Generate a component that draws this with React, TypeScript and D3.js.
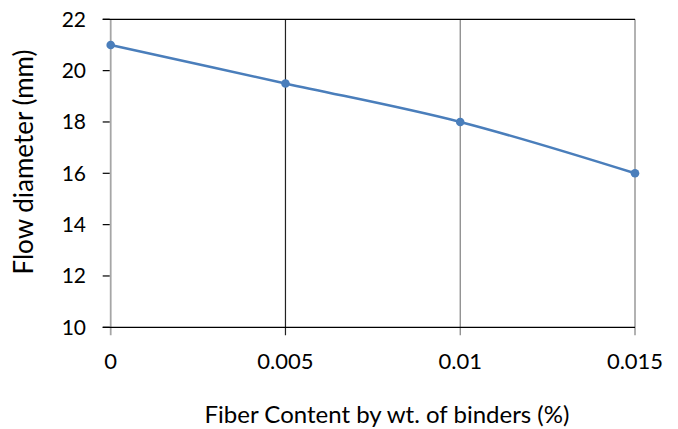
import React, { useEffect, useRef } from "react";
import * as d3 from "d3";

const fiberContent = [0, 0.005, 0.01, 0.015];
const flowDiameter = [21, 19.5, 18, 16];
const yTicks = [10, 12, 14, 16, 18, 20, 22];
const xTicks = [0, 0.005, 0.01, 0.015];
const xTickLabels = ["0", "0.005", "0.01", "0.015"];
const xTitle = "Fiber Content by wt. of binders (%)";
const yTitle = "Flow diameter (mm)";

export default function App() {
  const ref = useRef<SVGSVGElement>(null);
  useEffect(() => {
    const svg = d3.select(ref.current);
    svg.selectAll("*").remove();
    const W = 678, H = 429;
    const left = 110.7, right = 635, top = 19.3, bottom = 327.3;
    const x = d3.scaleLinear().domain([0, 0.015]).range([left, right]);
    const y = d3.scaleLinear().domain([10, 22]).range([bottom, top]);
    const font = "Lato, 'Open Sans', sans-serif";

    svg.append("rect").attr("width", W).attr("height", H).attr("fill", "#fff");

    const gridColors = ["#a6a6a6", "#222", "#7f7f7f", "#7f7f7f"];
    xTicks.forEach((t, i) => {
      svg.append("line")
        .attr("x1", x(t)).attr("x2", x(t))
        .attr("y1", y(22)).attr("y2", bottom + 8)
        .attr("stroke", gridColors[i]).attr("stroke-width", i === 0 ? 1.8 : 1.2);
    });
    svg.append("line").attr("x1", left - 8).attr("x2", right)
      .attr("y1", y(22)).attr("y2", y(22)).attr("stroke", "#000").attr("stroke-width", 1.2);
    svg.append("line").attr("x1", left - 8).attr("x2", right)
      .attr("y1", y(10)).attr("y2", y(10)).attr("stroke", "#000").attr("stroke-width", 1.2);
    yTicks.forEach(t => {
      svg.append("line").attr("x1", left - 8).attr("x2", left - 1)
        .attr("y1", y(t)).attr("y2", y(t)).attr("stroke", "#000").attr("stroke-width", 1.2);
      svg.append("text").attr("x", 86).attr("y", y(t) + 7.5)
        .attr("text-anchor", "end").attr("font-family", font).attr("font-size", 21)
        .attr("fill", "#000").text(String(t));
    });
    xTicks.forEach((t, i) => {
      svg.append("text").attr("x", x(t)).attr("y", 369)
        .attr("text-anchor", "middle").attr("font-family", font).attr("font-size", 22)
        .attr("fill", "#000").text(xTickLabels[i]);
    });

    const data = fiberContent.map((v, i) => [v, flowDiameter[i]] as [number, number]);
    const line = d3.line<[number, number]>()
      .x(d => x(d[0])).y(d => y(d[1]))
      .curve(d3.curveCatmullRom.alpha(0.5));
    svg.append("path").attr("d", line(data)).attr("fill", "none")
      .attr("stroke", "#4a7ebb").attr("stroke-width", 2.5);
    svg.selectAll("circle.pt").data(data).enter().append("circle")
      .attr("cx", d => x(d[0])).attr("cy", d => y(d[1])).attr("r", 4.3)
      .attr("fill", "#4a7ebb");

    svg.append("text").attr("x", 387).attr("y", 423)
      .attr("text-anchor", "middle").attr("font-family", font).attr("font-size", 24)
      .attr("fill", "#000").text(xTitle);
    svg.append("text")
      .attr("transform", `translate(33, 162) rotate(-90)`)
      .attr("text-anchor", "middle").attr("font-family", font).attr("font-size", 26)
      .attr("fill", "#000").text(yTitle);
  }, []);
  return (
    <svg ref={ref} width={678} height={429}
      style={{ position: "absolute", left: 0, top: 0, display: "block" }} />
  );
}
